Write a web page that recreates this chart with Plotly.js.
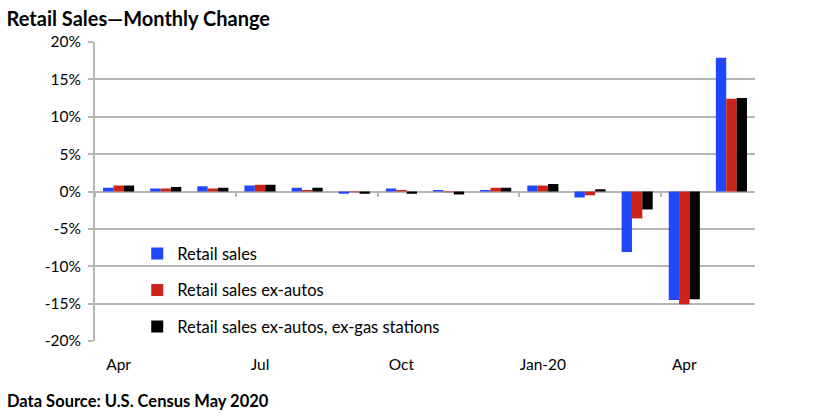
<!DOCTYPE html>
<html>
<head>
<meta charset="utf-8">
<script src="https://cdn.plot.ly/plotly-3.0.1.min.js"></script>
<style>html,body{margin:0;padding:0;background:#fff;}#chart{width:816px;height:417px;}</style>
</head>
<body>
<div id="chart"></div>
<script>
const months = ["Apr-19","May-19","Jun-19","Jul-19","Aug-19","Sep-19","Oct-19","Nov-19","Dec-19","Jan-20","Feb-20","Mar-20","Apr-20","May-20"];
const tickVals = ["Apr-19","Jul-19","Oct-19","Jan-20","Apr-20"];
const tickText = ["Apr","Jul","Oct","Jan-20","Apr"];
const yTickVals = [-20,-15,-10,-5,0,5,10,15,20];
const yTickText = ["-20%","-15%","-10%","-5%","0%","5%","10%","15%","20%"];
const retailSales = [0.5,0.4,0.7,0.8,0.5,-0.3,0.4,0.2,0.2,0.8,-0.8,-8.1,-14.5,17.9];
const exAutos = [0.8,0.4,0.4,0.9,0.2,-0.1,0.2,-0.1,0.5,0.8,-0.5,-3.6,-15.1,12.4];
const exAutosGas = [0.8,0.6,0.5,0.9,0.5,-0.3,-0.3,-0.4,0.5,1.0,0.3,-2.4,-14.4,12.5];
const seriesNames = ["Retail sales","Retail sales ex-autos","Retail sales ex-autos, ex-gas stations"];
const seriesColors = ["#1f48fa","#cc2418","#000000"];

const font = "Lato, 'Open Sans', sans-serif";
const grid = "#b5b5b5";
const data = [retailSales, exAutos, exAutosGas].map((vals, i) => ({
  type: "bar", x: months, y: vals, name: seriesNames[i],
  marker: {color: seriesColors[i], line: {width: 0}},
  legendgroup: "g" + i, hoverinfo: "x+y+name"
}));
// empty helper trace so the zero-line tick axis is drawn
data.push({type: "scatter", x: [], y: [], xaxis: "x2", yaxis: "y", showlegend: false, hoverinfo: "skip"});

const layout = {
  width: 816, height: 417,
  paper_bgcolor: "#fff", plot_bgcolor: "#fff",
  margin: {l: 95, r: 61, t: 42, b: 76},
  font: {family: font, size: 15, color: "#000"},
  title: {text: "<b>Retail Sales\u2014Monthly Change</b>", x: 0.008, xanchor: "left", y: 0.955, yanchor: "middle", font: {family: font, size: 20, color: "#000"}},
  barmode: "group", bargap: 0.34, bargroupgap: 0,
  showlegend: true,
  legend: {x: 0.064, xanchor: "left", y: 0.35, yanchor: "top", bgcolor: "rgba(0,0,0,0)", font: {family: font, size: 16.5}, tracegroupgap: 12, traceorder: "grouped", itemwidth: 30},
  xaxis: {type: "category", categoryarray: months, tickvals: tickVals, ticktext: tickText, showgrid: false, zeroline: false, showline: false, ticks: "", ticklabelstandoff: 12, tickfont: {size: 15.5}, range: [-0.5, 13.5]},
  xaxis2: {type: "linear", overlaying: "x", anchor: "free", position: 0.5, range: [-0.5, 13.5], tick0: -0.5, dtick: 3, ticks: "outside", ticklen: 4, tickwidth: 2, tickcolor: grid, showticklabels: false, showgrid: false, zeroline: false, showline: false},
  yaxis: {range: [-20, 20], tickvals: yTickVals, ticktext: yTickText, showgrid: true, gridcolor: grid, gridwidth: 2, zeroline: true, zerolinecolor: grid, zerolinewidth: 2, showline: true, linecolor: grid, linewidth: 2, ticks: "outside", ticklen: 5, tickwidth: 2, tickcolor: grid, tickfont: {size: 15.5}, ticklabelstandoff: 4},
  annotations: [{text: "<b>Data Source: U.S. Census May 2020</b>", xref: "paper", yref: "paper", x: -0.137, xanchor: "left", y: -0.2, yanchor: "middle", showarrow: false, font: {family: font, size: 16.5, color: "#000"}}]
};

Plotly.newPlot("chart", data, layout, {displayModeBar: false, staticPlot: true});
</script>
</body>
</html>
